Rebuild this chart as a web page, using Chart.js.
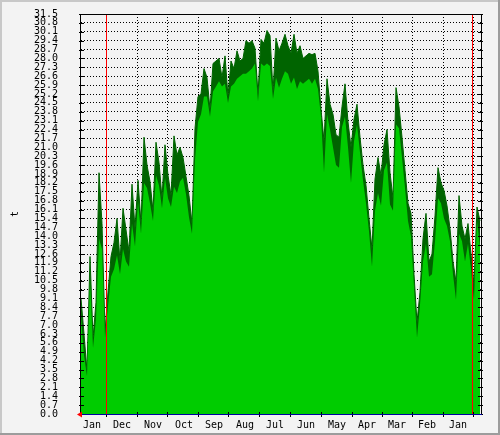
<!DOCTYPE html>
<html>
<head>
<meta charset="utf-8">
<script src="https://cdn.jsdelivr.net/npm/chart.js@4"></script>
<style>
  html, body { margin: 0; padding: 0; background: #f3f3f3; }
  canvas { display: block; }
</style>
</head>
<body>
<canvas id="chart" width="500" height="435"></canvas>
<script>
// upper (dark) series, one sample every 3 days
const maxTemp = [
  9.1, 6.3, 3.4, 12.4, 6.0, 8.8, 19.0, 15.0, 6.5, 9.6,
  12.4, 13.5, 15.4, 12.0, 16.2, 14.5, 12.8, 18.1, 14.6, 18.4,
  15.0, 21.8, 19.6, 18.3, 16.0, 21.4, 19.8, 17.0, 21.2, 18.8,
  17.2, 21.9, 20.4, 21.0, 20.2, 18.7, 17.2, 15.0, 22.5, 25.0,
  25.2, 27.2, 26.5, 24.0, 27.6, 27.8, 28.0, 26.5, 28.2, 25.0,
  27.8, 27.2, 28.6, 27.8, 28.0, 29.4, 29.2, 29.4, 28.8, 25.2,
  29.5, 29.2, 30.2, 29.8, 25.4, 29.6, 28.6, 29.2, 29.9, 29.0,
  28.4, 29.9, 28.4, 29.0, 28.0, 28.2, 28.4, 28.3, 28.4, 27.0,
  24.0, 21.5, 26.4, 24.4, 23.6, 22.0, 21.8, 24.2, 26.0, 23.0,
  21.0, 23.2, 24.4, 21.8, 19.6, 18.0, 15.4, 13.0, 18.5, 20.2,
  18.8, 21.2, 22.4, 19.0, 17.0, 25.7, 24.2, 21.8, 19.2, 16.6,
  15.8, 11.0, 7.2, 9.6, 13.8, 15.8, 12.0, 12.6, 15.6, 19.4,
  18.2, 17.6, 16.4, 14.6, 12.0, 10.4, 17.2, 14.8, 13.8, 15.0,
  12.6, 10.2, 16.3, 15.2
];
// lower (light) series
const avgTemp = [
  7.7, 4.6, 3.0, 10.6, 5.2, 7.5, 13.8, 13.0, 6.0, 8.5,
  10.8, 11.4, 12.5, 11.0, 13.0, 12.0, 11.6, 15.0, 13.2, 16.8,
  14.2, 18.2, 17.8, 16.6, 15.2, 18.8, 18.0, 16.2, 18.6, 17.0,
  16.3, 17.9, 17.4, 18.3, 18.6, 17.3, 15.5, 14.2, 20.0, 23.0,
  23.6, 25.0, 25.0, 23.4, 25.4, 25.8, 26.2, 25.8, 26.0, 24.5,
  25.8, 26.0, 26.4, 26.6, 26.8, 26.8, 27.0, 27.2, 27.6, 24.6,
  27.6, 27.4, 27.6, 27.4, 24.8, 26.5, 25.7, 26.4, 27.0, 26.8,
  26.0, 26.5, 25.6, 26.2, 26.0, 26.2, 26.4, 26.0, 26.4, 25.6,
  23.4, 19.0, 23.6, 22.4, 21.0, 19.6, 19.4, 22.6, 23.4, 21.0,
  18.2, 21.5, 22.8, 20.6, 18.4, 16.6, 14.4, 11.6, 16.0, 17.4,
  16.4, 19.2, 19.8, 16.5, 16.0, 22.8, 22.5, 20.2, 17.8, 15.2,
  14.0, 10.0, 6.0, 8.6, 12.0, 13.4, 10.8, 11.0, 13.6, 17.0,
  16.6, 15.4, 14.8, 13.6, 11.0, 9.0, 14.2, 13.6, 12.0, 13.4,
  11.4, 9.0, 15.2, 13.2
];
const sampleDay = maxTemp.map((_, i) => i * 3);

const monthLabels = ['Jan','Dec','Nov','Oct','Sep','Aug','Jul','Jun','May','Apr','Mar','Feb','Jan'];
const monthMid = [11, 41, 72, 103, 133, 164, 194, 225, 256, 286, 316, 346, 377];
const monthEdge = [25, 56, 86, 117, 147, 178, 209, 240, 271, 301, 331, 362, 392];
const markerDays = [25, 391];

const yTicks = [
  0.0, 0.7, 1.4, 2.1, 2.8, 3.5, 4.2, 4.9, 5.6, 6.3,
  7.0, 7.7, 8.4, 9.1, 9.8, 10.5, 11.2, 11.9, 12.6, 13.3,
  14.0, 14.7, 15.4, 16.1, 16.8, 17.5, 18.2, 18.9, 19.6, 20.3,
  21.0, 21.7, 22.4, 23.1, 23.8, 24.5, 25.2, 25.9, 26.6, 27.3,
  28.0, 28.7, 29.4, 30.1, 30.8, 31.5
];

const MONO = 'DejaVu Sans Mono';

// background, bevelled frame, ticks, markers
const framePlugin = {
  id: 'frame',
  beforeDraw(chart) {
    const c = chart.ctx, w = chart.width, h = chart.height;
    c.save();
    c.fillStyle = '#f3f3f3';
    c.fillRect(0, 0, w, h);
    c.fillStyle = '#c8c8c8';
    c.fillRect(0, 0, w, 2);
    c.fillRect(0, 0, 2, h);
    c.fillStyle = '#9c9c9c';
    c.fillRect(0, h - 2, w, 2);
    c.fillRect(w - 2, 0, 2, h);
    c.restore();
  },
  afterDraw(chart) {
    const c = chart.ctx, a = chart.chartArea;
    const y = chart.scales.y, x = chart.scales.x;
    c.save();
    // tick marks
    c.strokeStyle = '#000';
    c.lineWidth = 1;
    c.beginPath();
    yTicks.forEach(v => {
      const py = Math.round(y.getPixelForValue(v)) + 0.5;
      c.moveTo(a.left - 2, py); c.lineTo(a.left + 3, py);
      c.moveTo(a.right - 3, py); c.lineTo(a.right + 2, py);
    });
    monthEdge.forEach(d => {
      const px = Math.round(x.getPixelForValue(d)) + 0.5;
      c.moveTo(px, a.bottom - 2); c.lineTo(px, a.bottom + 3);
    });
    c.stroke();
    // red markers
    c.strokeStyle = '#ff0000';
    c.beginPath();
    markerDays.forEach(d => {
      const px = Math.round(x.getPixelForValue(d)) + 0.5;
      c.moveTo(px, a.top); c.lineTo(px, a.bottom);
    });
    c.stroke();
    // frame lines
    c.strokeStyle = '#000';
    c.beginPath();
    c.moveTo(a.left - 0.5, a.bottom); c.lineTo(a.left - 0.5, a.top + 0.5);
    c.lineTo(a.right + 0.5, a.top + 0.5); c.lineTo(a.right + 0.5, a.bottom);
    c.stroke();
    c.strokeStyle = '#0000a0';
    c.beginPath();
    c.moveTo(a.left - 1, a.bottom + 0.5); c.lineTo(a.right + 1, a.bottom + 0.5);
    c.stroke();
    // red arrow at axis origin
    c.fillStyle = '#ff0000';
    c.beginPath();
    c.moveTo(a.left - 4, a.bottom + 0.5);
    c.lineTo(a.left + 1, a.bottom - 2.5);
    c.lineTo(a.left + 1, a.bottom + 3.5);
    c.closePath();
    c.fill();
    c.restore();
  }
};

new Chart(document.getElementById('chart'), {
  type: 'line',
  plugins: [framePlugin],
  data: {
    labels: sampleDay,
    datasets: [
      { data: avgTemp, backgroundColor: '#00cc00', borderColor: '#00cc00', borderWidth: 0,
        fill: 'origin', pointRadius: 0, tension: 0 },
      { data: maxTemp, backgroundColor: '#006400', borderColor: '#006400', borderWidth: 1,
        fill: 'origin', pointRadius: 0, tension: 0 }
    ]
  },
  options: {
    responsive: false,
    animation: false,
    layout: { autoPadding: false, padding: { left: 9, right: 19, top: 14, bottom: 0 } },
    plugins: { legend: { display: false }, tooltip: { enabled: false } },
    scales: {
      x2: {
        type: 'linear', position: 'bottom', min: 0, max: 400, weight: 0, z: 1,
        afterBuildTicks: s => { s.ticks = monthEdge.map(v => ({ value: v })); },
        afterFit: s => { s.height = 0; },
        ticks: { display: false },
        grid: { color: '#000', lineWidth: 1, drawTicks: false },
        border: { display: false, dash: [1, 2] }
      },
      x: {
        type: 'linear', position: 'bottom', min: 0, max: 400, weight: 1,
        afterBuildTicks: s => { s.ticks = monthMid.map(v => ({ value: v })); },
        afterFit: s => { s.height = 21; },
        ticks: {
          autoSkip: false, maxRotation: 0, padding: 5, color: '#000',
          font: { family: MONO, size: 10 },
          callback: (v, i) => monthLabels[i]
        },
        grid: { display: false, drawTicks: false },
        border: { display: false }
      },
      y: {
        min: 0, max: 31.5, z: 1,
        afterBuildTicks: s => { s.ticks = yTicks.map(v => ({ value: v })); },
        afterFit: s => { s.width = 72; },
        ticks: {
          autoSkip: false, padding: 0, color: '#000', font: { family: MONO, size: 10 },
          callback: v => v.toFixed(1)
        },
        grid: { color: '#000', lineWidth: 1, drawTicks: true, tickLength: 23,
          tickBorderDash: [], tickColor: 'rgba(0,0,0,0)' },
        border: { display: false, dash: [1, 2] },
        title: { display: true, text: 't', color: '#000', padding: 0,
          font: { family: MONO, size: 10 } }
      }
    }
  }
});
</script>
</body>
</html>
